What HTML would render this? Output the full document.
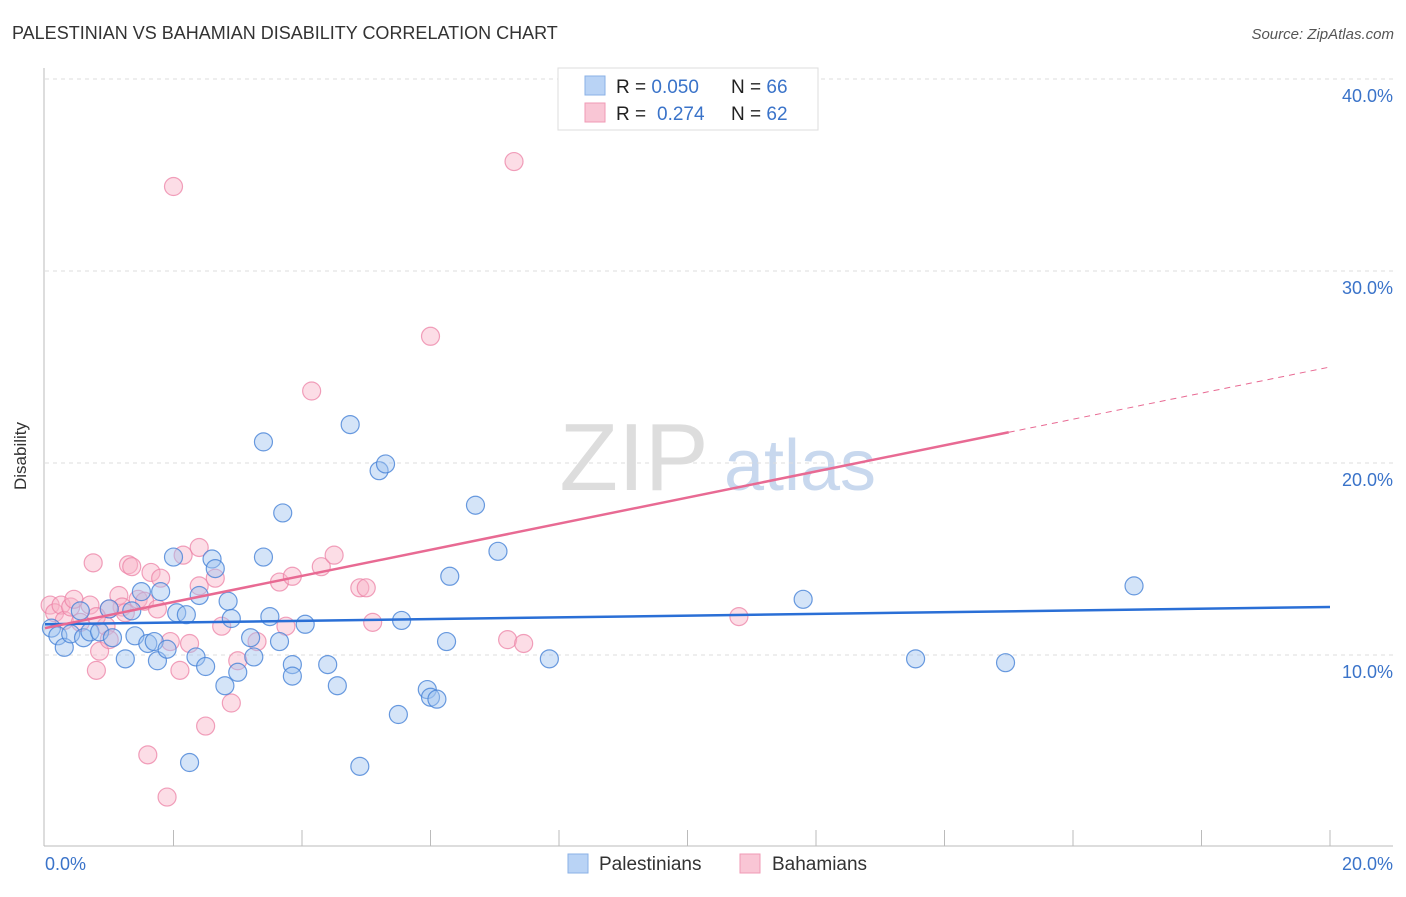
<!DOCTYPE html>
<html><head><meta charset="utf-8"><style>
body{margin:0;background:#fff;font-family:"Liberation Sans",sans-serif;}
svg text{font-family:"Liberation Sans",sans-serif;}
</style></head><body>
<svg id="chart" width="1406" height="892" xmlns="http://www.w3.org/2000/svg">
<text x="12" y="39" font-size="18" fill="#333">PALESTINIAN VS BAHAMIAN DISABILITY CORRELATION CHART</text>
<text x="1394" y="39" font-size="15" fill="#555" font-style="italic" text-anchor="end">Source: ZipAtlas.com</text>
<text x="26" y="456" font-size="17" fill="#333" transform="rotate(-90 26 456)" text-anchor="middle">Disability</text>
<g><text x="634" y="490" font-size="96" fill="#ddd" font-family="Liberation Serif" text-anchor="middle">ZIP</text><text x="800" y="490" font-size="72" fill="#c8d8ee" text-anchor="middle">atlas</text></g>
<g id="grid"></g><g id="axes"></g><g id="pts"></g><g id="lines"></g>
<g>
<rect x="558" y="68" width="260" height="62" fill="#fff" stroke="#ddd"/>
<rect x="585" y="76" width="20" height="19" fill="#b9d3f5" stroke="#8ab0e6"/>
<rect x="585" y="103" width="20" height="19" fill="#f9c6d5" stroke="#f09ab5"/>
<text x="616" y="93" font-size="19" fill="#222">R = <tspan fill="#3a73c9">0.050</tspan><tspan x="731">N = </tspan><tspan fill="#3a73c9">66</tspan></text>
<text x="616" y="120" font-size="19" fill="#222">R = <tspan fill="#3a73c9" x="657">0.274</tspan><tspan x="731">N = </tspan><tspan fill="#3a73c9">62</tspan></text>
</g>
<g>
<rect x="568" y="854" width="20" height="19" fill="#b9d3f5" stroke="#8ab0e6"/>
<text x="599" y="870" font-size="19" fill="#333">Palestinians</text>
<rect x="740" y="854" width="20" height="19" fill="#f9c6d5" stroke="#f09ab5"/>
<text x="772" y="870" font-size="19" fill="#333">Bahamians</text>
</g>
</svg>
<script>
const blueX=[0.1,0.2,0.3,0.4,0.6,0.7,0.85,1.0,1.05,1.25,1.4,1.5,1.6,1.7,1.75,1.8,1.9,2.0,2.05,2.2,2.35,2.4,2.5,2.6,2.65,2.8,2.85,2.9,3.0,3.2,3.25,3.4,3.4,3.5,3.65,3.7,3.85,3.85,4.05,4.4,4.55,4.75,4.9,5.2,5.3,5.5,5.55,5.95,6.0,6.1,6.25,6.3,6.7,7.05,7.85,11.8,13.55,14.95,16.95,2.25,1.35,0.55];
const blueY=[11.4,11.0,10.4,11.1,10.9,11.2,11.2,12.4,10.9,9.8,11.0,13.3,10.6,10.7,9.7,13.3,10.3,15.1,12.2,12.1,9.9,13.1,9.4,15.0,14.5,8.4,12.8,11.9,9.1,10.9,9.9,21.1,15.1,12.0,10.7,17.4,9.5,8.9,11.6,9.5,8.4,22.0,4.2,19.6,19.95,6.9,11.8,8.2,7.8,7.7,10.7,14.1,17.8,15.4,9.8,12.9,9.8,9.6,13.6,4.4,12.3,12.3];
const pinkX=[0.08,0.15,0.25,0.3,0.4,0.45,0.55,0.7,0.75,0.8,0.85,0.95,1.0,1.15,1.2,1.25,1.3,1.35,1.45,1.55,1.6,1.65,1.75,1.8,1.9,1.95,2.0,2.1,2.15,2.25,2.4,2.4,2.5,2.65,2.75,2.9,3.0,3.3,3.65,3.75,3.85,4.15,4.3,4.5,4.9,5.0,5.1,6.0,7.2,7.3,7.45,10.8,1.0,0.8];
const pinkY=[12.6,12.2,12.6,11.8,12.5,12.9,11.7,12.6,14.8,9.2,10.2,11.5,10.8,13.1,12.5,12.2,14.7,14.6,12.9,12.8,4.8,14.3,12.4,14.0,2.6,10.7,34.4,9.2,15.2,10.6,15.6,13.6,6.3,14.0,11.5,7.5,9.7,10.7,13.8,11.5,14.1,23.75,14.6,15.2,13.5,13.5,11.7,26.6,10.8,35.7,10.6,12.0,12.4,12.0];
const yTicks=[10,20,30,40];
const yTickLabels=["10.0%","20.0%","30.0%","40.0%"];
const blueTrend=[11.6,12.5]; // value at x=0 and x=20
const pinkTrend=[11.4,25.0];
const pinkSolidEnd=15;
const sx=v=>45+v/20*1285, sy=v=>655-(v-10)*19.2;
const NS="http://www.w3.org/2000/svg";
function mk(tag,attrs,parent){const e=document.createElementNS(NS,tag);for(const k in attrs)e.setAttribute(k,attrs[k]);parent.appendChild(e);return e;}
const grid=document.getElementById('grid'),axes=document.getElementById('axes'),pts=document.getElementById('pts'),lines=document.getElementById('lines');
yTicks.forEach((t,i)=>{
 const l=mk('line',{x1:45,x2:1393,y1:sy(t),y2:sy(t),stroke:'#ddd','stroke-dasharray':'4,4'},grid);
 
 
 const tx=mk('text',{x:1393,y:sy(t)+23,'font-size':18,fill:'#3a73c9','text-anchor':'end'},grid);
 tx.textContent=yTickLabels[i];
 
 
});
let a=mk('line',{x1:44,x2:44,y1:68,y2:846,stroke:'#bbb'},axes);


a=mk('line',{x1:44,x2:1393,y1:846,y2:846,stroke:'#bbb'},axes);


for(let v=2;v<=20;v+=2){const t=mk('line',{x1:sx(v),x2:sx(v),y1:830,y2:846,stroke:'#bbb'},axes);
 
 }
let xl=mk('text',{x:45,y:870,'font-size':18,fill:'#3a73c9'},axes);xl.textContent='0.0%';


xl=mk('text',{x:1393,y:870,'font-size':18,fill:'#3a73c9','text-anchor':'end'},axes);xl.textContent='20.0%';


pinkX.forEach((x,i)=>{const c=mk('circle',{cx:sx(x),cy:sy(pinkY[i]),r:9,fill:'rgba(248,180,200,0.45)',stroke:'rgba(236,130,165,0.75)','stroke-width':1.2},pts);
 
 });
blueX.forEach((x,i)=>{const c=mk('circle',{cx:sx(x),cy:sy(blueY[i]),r:9,fill:'rgba(160,195,240,0.45)',stroke:'rgba(70,130,215,0.8)','stroke-width':1.2},pts);
 
 });
const pAt=x=>pinkTrend[0]+(pinkTrend[1]-pinkTrend[0])*x/20;
let ln=mk('line',{x1:sx(0),y1:sy(blueTrend[0]),x2:sx(20),y2:sy(blueTrend[1]),stroke:'#2a6fd6','stroke-width':2.5},lines);


ln=mk('line',{x1:sx(0),y1:sy(pAt(0)),x2:sx(pinkSolidEnd),y2:sy(pAt(pinkSolidEnd)),stroke:'#e86a93','stroke-width':2.5},lines);


ln=mk('line',{x1:sx(pinkSolidEnd),y1:sy(pAt(pinkSolidEnd)),x2:sx(20),y2:sy(pAt(20)),stroke:'#e86a93','stroke-width':1,'stroke-dasharray':'6,5'},lines);


</script>
</body></html>
